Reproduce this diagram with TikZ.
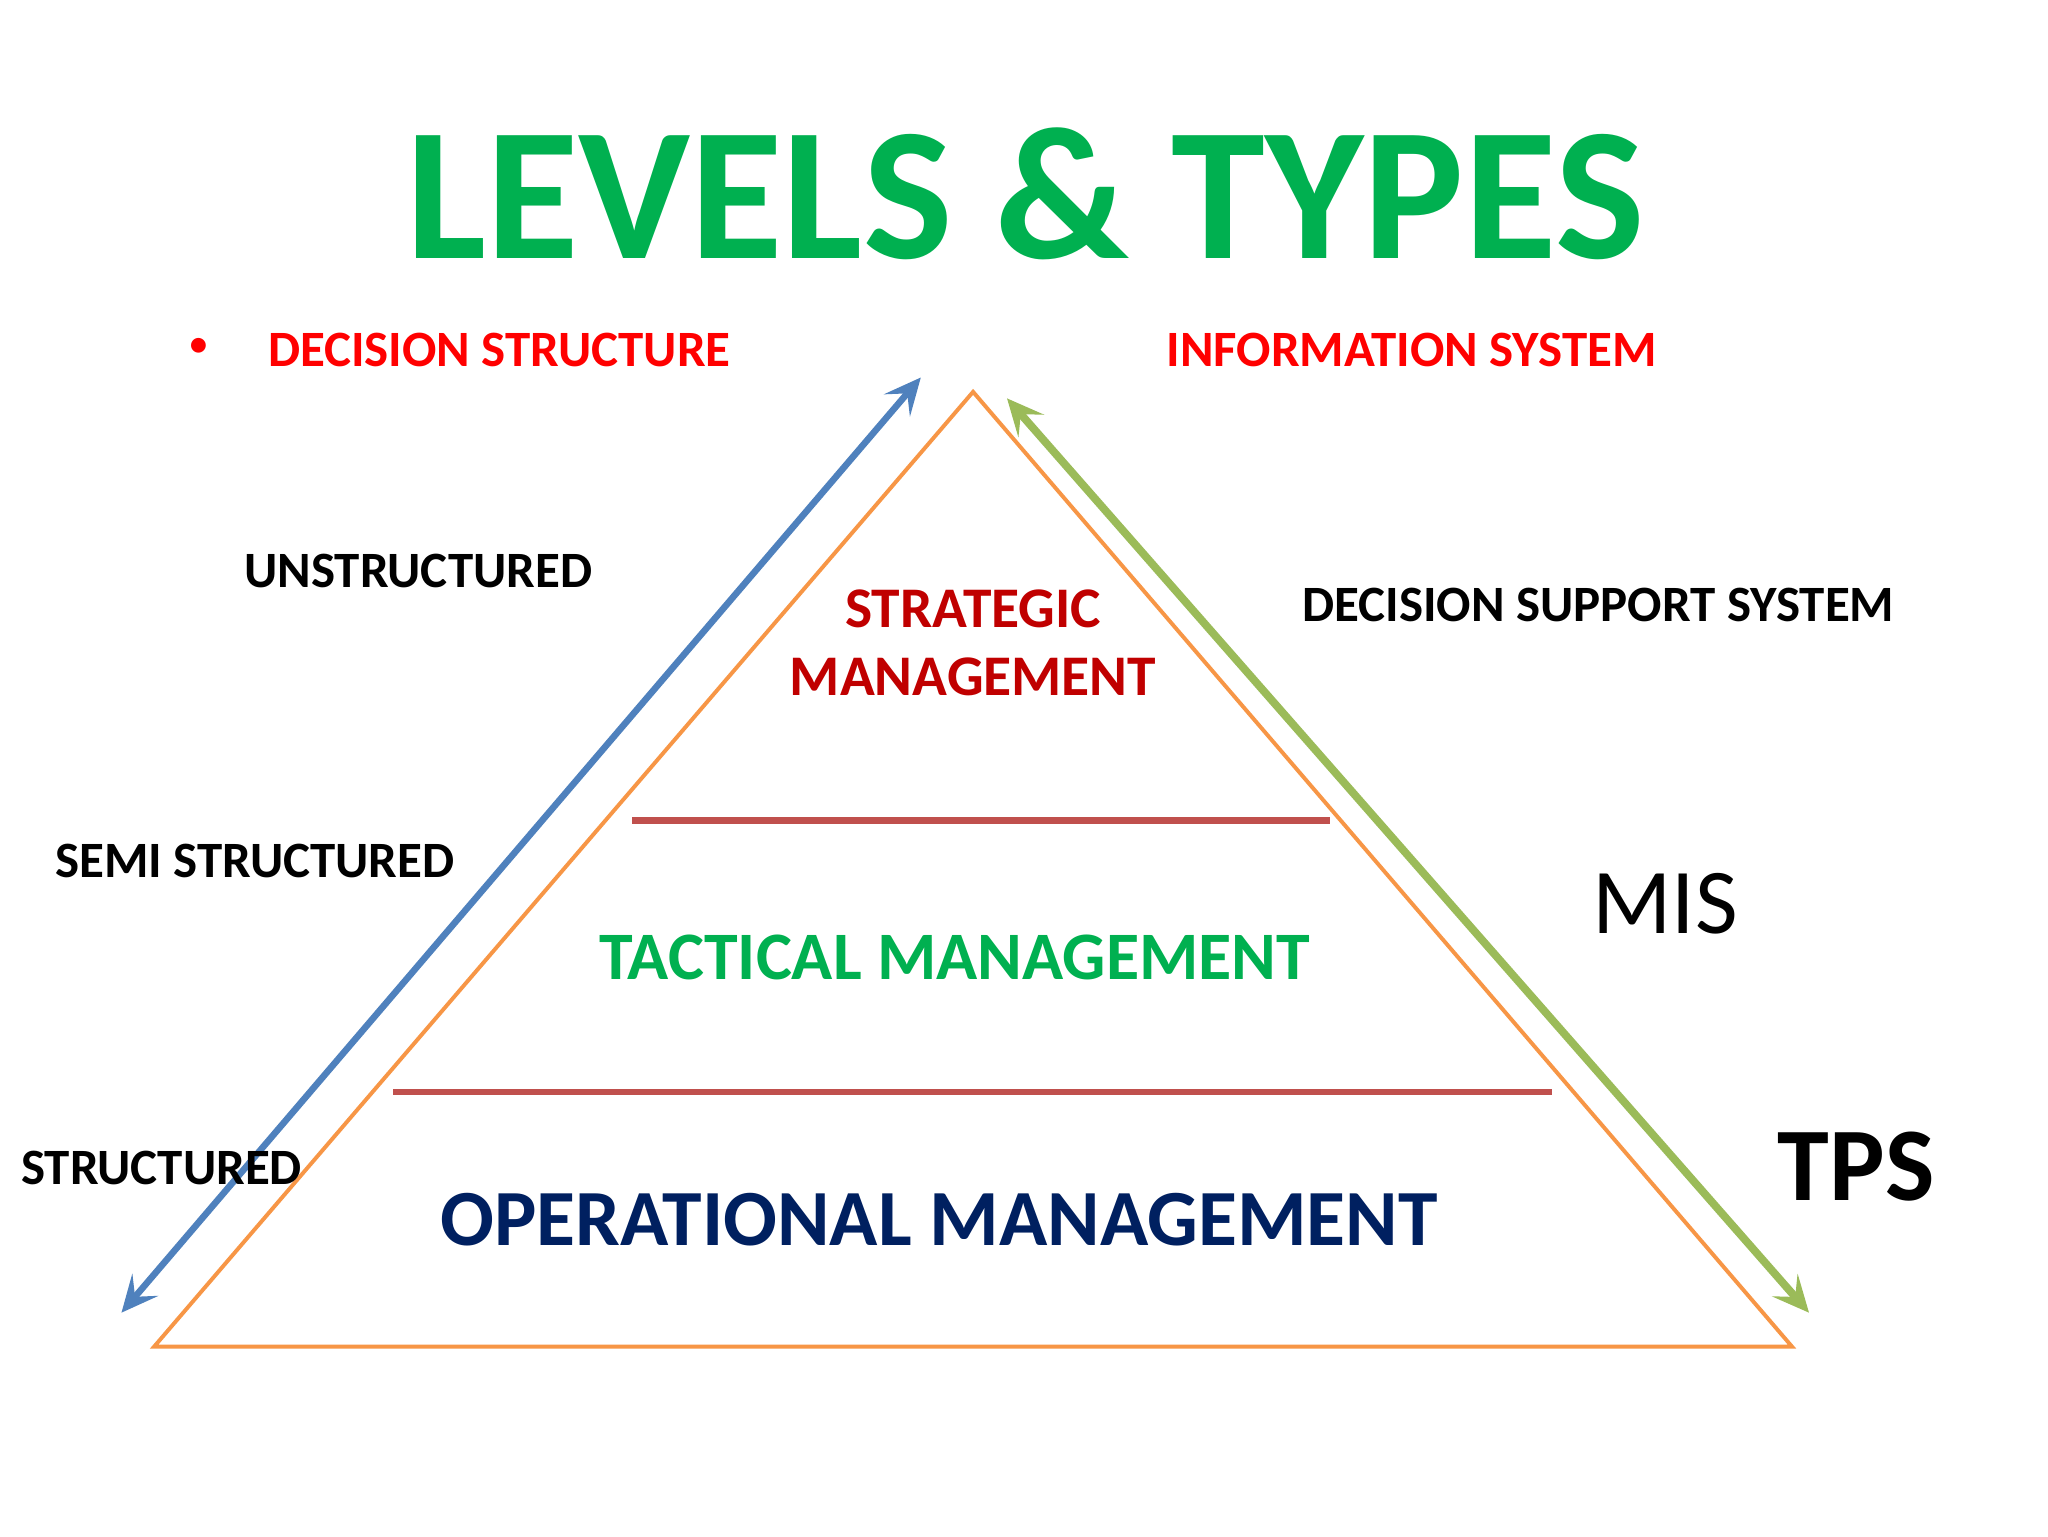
\documentclass[tikz,border=0pt]{standalone}
\usepackage{fontspec}
\setmainfont{Carlito}
\usetikzlibrary{arrows.meta}
\definecolor{tgreen}{HTML}{00B050}
\definecolor{tred}{HTML}{FF0000}
\definecolor{dred}{HTML}{C00000}
\definecolor{navy}{HTML}{002060}
\definecolor{orng}{HTML}{F79646}
\definecolor{blu}{HTML}{4F81BD}
\definecolor{lgrn}{HTML}{9BBB59}
\definecolor{brk}{HTML}{C0504D}
\tikzset{
 lbl/.style={inner sep=0pt,font=\fontsize{39}{43}\selectfont\bfseries},
 bar/.style={brk,line width=5pt},
 dblarrow/.style={{Stealth[length=28pt,width=26pt,inset=12pt]}-{Stealth[length=28pt,width=26pt,inset=12pt]}},
}
\begin{document}
\begin{tikzpicture}[x=1pt,y=-1pt]
\useasboundingbox[fill=white] (0,0) rectangle (1568,1176);
\node[inner sep=0pt,text=tgreen,font=\fontsize{145}{150}\selectfont\bfseries] (title) at (785,148) {LEVELS \& TYPES};
\node[inner sep=0pt,text=tred,font=\fontsize{32}{36}\selectfont] (bul) at (152,266) {•};
\node[lbl,anchor=west,text=tred,font=\fontsize{39}{43}\selectfont\bfseries] (ds) at (205,268) {DECISION STRUCTURE};
\node[lbl,anchor=west,text=tred,font=\fontsize{39}{43}\selectfont\bfseries] (is) at (893,268) {INFORMATION SYSTEM};
% triangle
\coordinate (A) at (745,300);
\coordinate (L) at (118,1031);
\coordinate (R) at (1372,1031);
\draw[orng,line width=3pt,line join=miter] (A) -- (L) -- (R) -- cycle;
% bars
\coordinate (b1) at (484,628); \coordinate (b2) at (1018,628);
\coordinate (c1) at (301,836); \coordinate (c2) at (1188,836);
\draw[bar] (b1) -- (b2);
\draw[bar] (c1) -- (c2);
% arrows
\coordinate (u1) at (93,1005); \coordinate (u2) at (705,289);
\coordinate (g1) at (771,305); \coordinate (g2) at (1385,1005);
\draw[blu,line width=5pt,dblarrow] (u1) -- (u2);
\draw[lgrn,line width=6pt,dblarrow] (g1) -- (g2);
% labels
\node[lbl,anchor=west] (un) at (187,437) {UNSTRUCTURED};
\node[lbl,anchor=west] (dss) at (997,463) {DECISION SUPPORT SYSTEM};
\node[lbl,anchor=west] (semi) at (42,659) {SEMI STRUCTURED};
\node[lbl,anchor=west] (st) at (16,894) {STRUCTURED};
\node[inner sep=0pt,anchor=west,font=\fontsize{71}{76}\selectfont] (mis) at (1219,692) {MIS};
\node[inner sep=0pt,anchor=west,font=\fontsize{80}{84}\selectfont\bfseries] (tps) at (1361,893) {TPS};
\node[inner sep=0pt,text=dred,font=\fontsize{44}{52}\selectfont\bfseries,align=center] (sm) at (745,492) {STRATEGIC\\MANAGEMENT};
\node[inner sep=0pt,text=tgreen,font=\fontsize{52}{60}\selectfont\bfseries] (tm) at (731,733) {TACTICAL MANAGEMENT};
\node[inner sep=0pt,text=navy,font=\fontsize{61}{66}\selectfont\bfseries] (om) at (719,934) {OPERATIONAL MANAGEMENT};
\end{tikzpicture}
\end{document}
